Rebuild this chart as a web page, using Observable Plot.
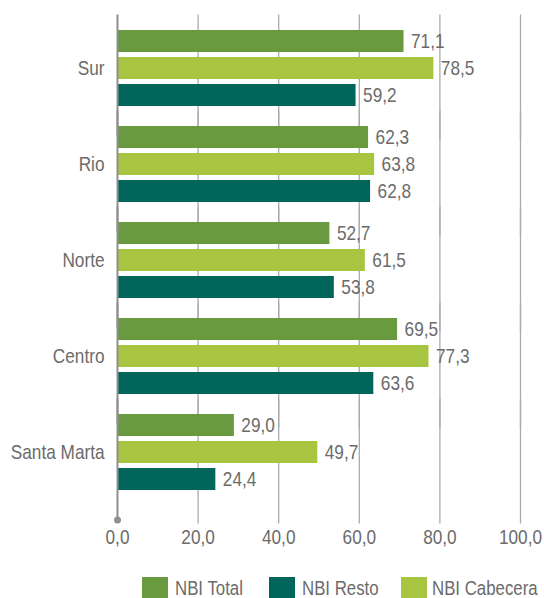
<!DOCTYPE html>
<html>
<head>
<meta charset="utf-8">
<script src="https://cdn.jsdelivr.net/npm/d3@7"></script>
<script src="https://cdn.jsdelivr.net/npm/@observablehq/plot@0.6"></script>
<style>
  body { margin: 0; background: #fff; }
  #chart svg { display: block; }
  #wrap { position: relative; width: 544px; height: 598px; overflow: hidden; }
  .lgsw { position: absolute; top: 577px; width: 26px; height: 21px; }
  .lgtx { position: absolute; top: 579px; line-height: 18px; height: 18px; white-space: nowrap;
          font-family: "Liberation Sans", Arial, sans-serif; font-size: 20.5px; color: #6b6b6b;
          transform: scaleX(0.82); transform-origin: 0 50%; }
</style>
</head>
<body>
<div id="wrap"><div id="chart"></div></div>
<script>
const categories = ["Sur", "Rio", "Norte", "Centro", "Santa Marta"];
const seriesNames = ["NBI Total", "NBI Cabecera", "NBI Resto"];
const total = [71.1, 62.3, 52.7, 69.5, 29.0];
const cabecera = [78.5, 63.8, 61.5, 77.3, 49.7];
const resto = [59.2, 62.8, 53.8, 63.6, 24.4];
const xTicks = [0, 20, 40, 60, 80, 100];
const colors = ["#699a3f", "#a7c540", "#00665b"];
const legendOrder = ["NBI Total", "NBI Resto", "NBI Cabecera"];

const seriesValues = [total, cabecera, resto];
const data = [];
categories.forEach((c, i) => {
  seriesNames.forEach((s, j) => data.push({cat: c, series: s, value: seriesValues[j][i]}));
});
const fmt = v => d3.format(".1f")(v).replace(".", ",");
const textColor = "#6b6b6b";
const fontFamily = '"Liberation Sans", Arial, sans-serif';

const chart = Plot.plot({
  width: 544,
  height: 560,
  marginLeft: 117,
  marginRight: 24,
  marginTop: 18,
  marginBottom: 58.5,
  style: {fontFamily, fontSize: "21px", color: textColor, overflow: "visible"},
  x: {domain: [0, 100], range: [117, 520]},
  y: {domain: seriesNames, paddingInner: 0.17, paddingOuter: 0.36, axis: null},
  fy: {domain: categories, padding: 0},
  color: {domain: seriesNames, range: colors},
  marks: [
    Plot.ruleX(xTicks.slice(1), {x: d => d, stroke: "#ababab", strokeWidth: 1.3, insetTop: -5.5, insetBottom: -23.5}),
    Plot.barX(data, {x: "value", y: "series", fy: "cat", fill: "series"}),
    Plot.ruleX([0], {x: d => d, stroke: "#8f8f8f", strokeWidth: 2, insetTop: -5.5, insetBottom: -19.5}),
    Plot.dot([{v: 0, cat: "Santa Marta"}], {x: "v", fy: "cat", frameAnchor: "bottom", dy: 19.5, r: 3.5, fill: "#8f8f8f", stroke: null}),
    Plot.text(data, {x: "value", y: "series", fy: "cat", text: d => fmt(d.value), textAnchor: "start", dx: 7, fill: textColor, fontSize: 21}),
    Plot.axisX({ticks: xTicks, tickFormat: fmt, tickSize: 0, tickPadding: 28.5, fontSize: 21, fill: textColor, label: null}),
    Plot.axisFy({anchor: "left", tickSize: 0, tickPadding: 13, fontSize: 21, fill: textColor, label: null})
  ]
});
document.getElementById("chart").appendChild(chart);

// condense text horizontally (narrow face look) around each text's anchor
const svg = document.querySelector("#chart svg");
svg.querySelectorAll("text").forEach(el => {
  const bb = el.getBBox();
  const anchor = getComputedStyle(el).textAnchor;
  const ax = anchor === "end" ? bb.x + bb.width : anchor === "middle" ? bb.x + bb.width / 2 : bb.x;
  const prev = el.getAttribute("transform") || "";
  el.setAttribute("transform", `${prev} translate(${ax},0) scale(0.82,1) translate(${-ax},0)`.trim());
});

const wrap = document.getElementById("wrap");
const swLeft = [142, 269, 401];
const txLeft = [175, 302, 432];
legendOrder.forEach((name, i) => {
  const sw = document.createElement("div");
  sw.className = "lgsw";
  sw.style.left = swLeft[i] + "px";
  sw.style.background = colors[seriesNames.indexOf(name)];
  const t = document.createElement("div");
  t.className = "lgtx";
  t.style.left = txLeft[i] + "px";
  t.textContent = name;
  wrap.appendChild(sw); wrap.appendChild(t);
});
</script>
</body>
</html>
